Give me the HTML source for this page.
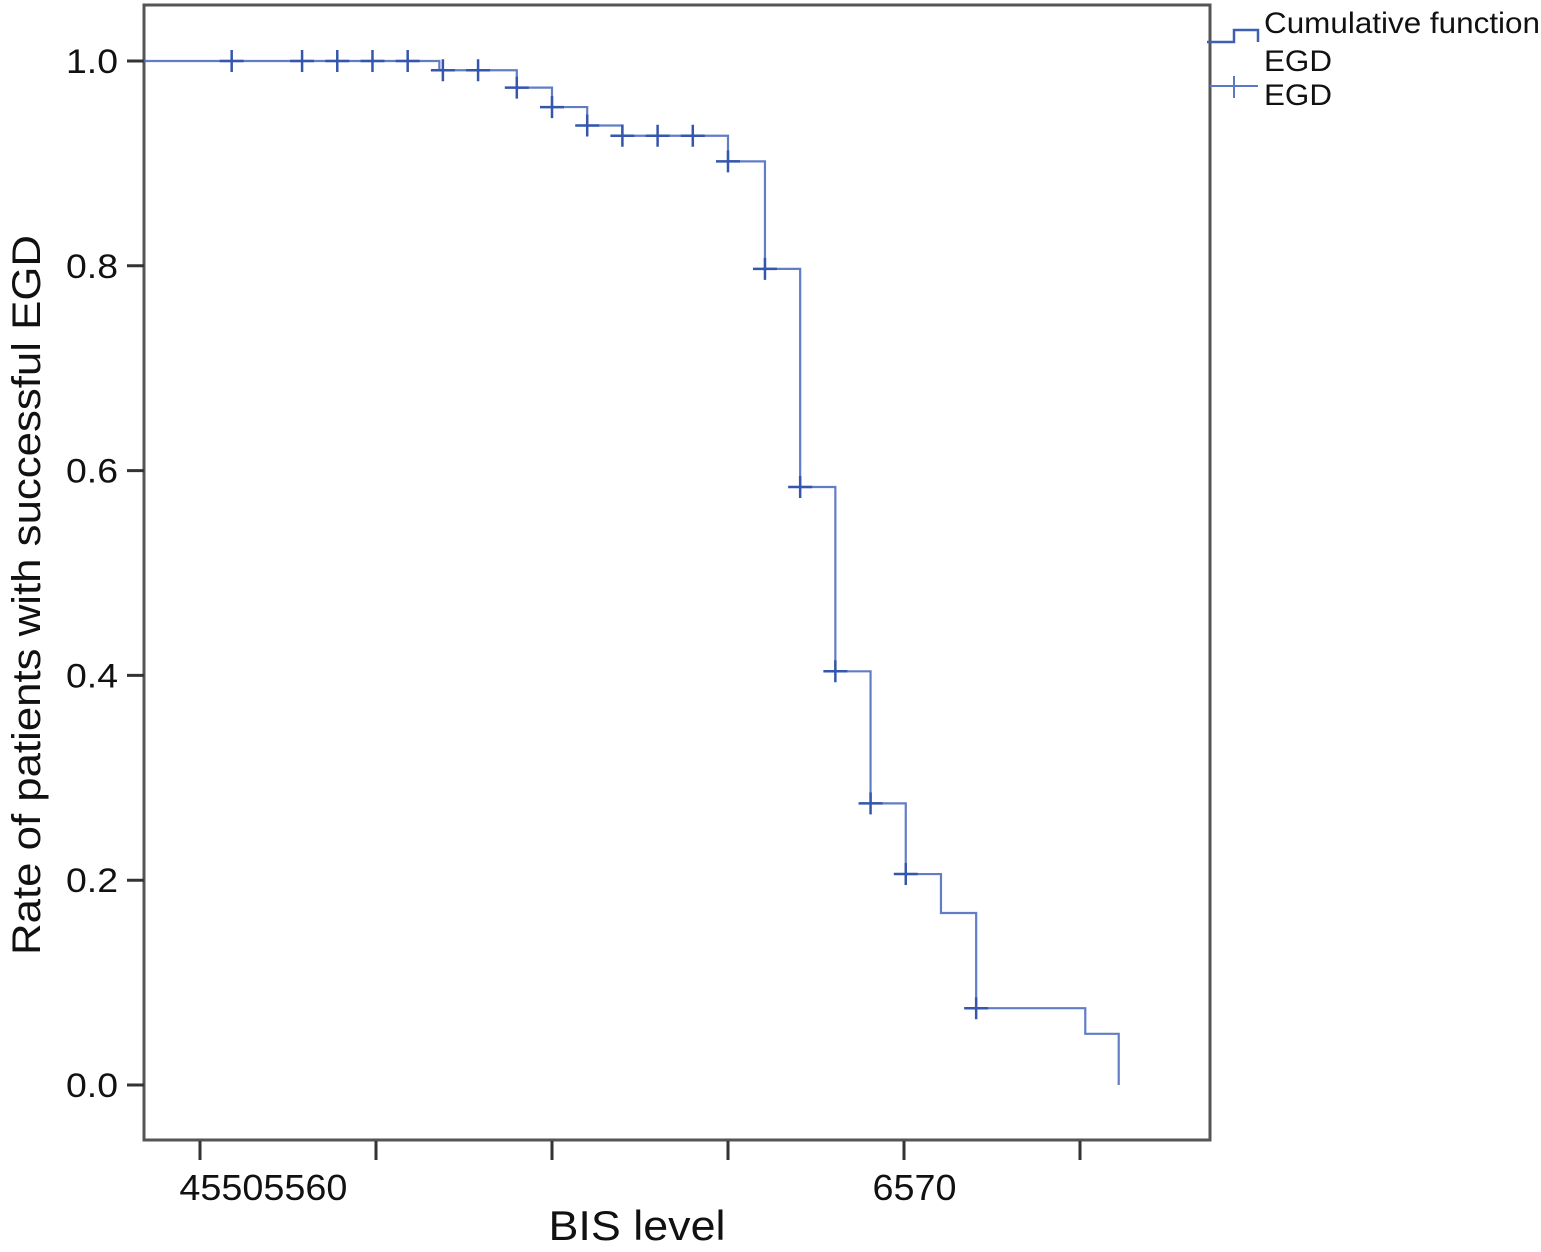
<!DOCTYPE html>
<html><head><meta charset="utf-8"><style>
html,body{margin:0;padding:0;background:#fff}
svg{display:block;font-family:"Liberation Sans",sans-serif}
</style></head><body>
<svg id="chart" width="1541" height="1252" viewBox="0 0 1541 1252">
<rect x="144" y="5" width="1066" height="1135" fill="#fff" stroke="#555" stroke-width="3"/>
<g id="yaxis"></g>
<g id="xaxis"></g>
<g id="series"></g>
<text x="0" y="0" transform="translate(40,595) rotate(-90)" text-anchor="middle" font-size="40" textLength="720" lengthAdjust="spacingAndGlyphs" fill="#111">Rate of patients with successful EGD</text>
<text x="637" y="1240" text-anchor="middle" font-size="42" textLength="177" lengthAdjust="spacingAndGlyphs" fill="#111">BIS level</text>
<g>
<path d="M1207 42 H1234 V30 H1258 V42" fill="none" stroke="#3f5fb3" stroke-width="2.5"/>
<text x="1264" y="33" font-size="30" textLength="276" lengthAdjust="spacingAndGlyphs" fill="#111">Cumulative function</text>
<text x="1264" y="71" font-size="30" textLength="68" lengthAdjust="spacingAndGlyphs" fill="#111">EGD</text>
<path d="M1210 86 H1258 M1234 76 V98" fill="none" stroke="#5a78c4" stroke-width="2"/>
<text x="1264" y="105" font-size="30" textLength="68" lengthAdjust="spacingAndGlyphs" fill="#111">EGD</text>
</g>
</svg>
<script>
const stepTimes=[51.8,54,55,56,57,60,61.05,62.05,63.05,64.05,65.05,66.05,67.05,70.15,71.1];
const stepSurv=[0.991,0.974,0.955,0.937,0.927,0.902,0.797,0.584,0.404,0.275,0.206,0.168,0.075,0.05,0.0];
const censorTimes=[45.9,47.9,48.9,49.9,50.9,51.9,52.9,54,55,56,57,58,59,60,61.05,62.05,63.05,64.05,65.05,67.05];
const yTicks=[0,0.2,0.4,0.6,0.8,1.0];
const yTickLabels=["0.0","0.2","0.4","0.6","0.8","1.0"];
const xTicks=[45,50,55,60,65,70];
const xTickLabels=[{x:46.8,t:"45505560"},{x:65.3,t:"6570"}];
const startTime=43.4;
const NS="http://www.w3.org/2000/svg";
const xs=v=>200+(v-45)*35.2;
const ys=v=>1085-v*1024;
function mk(t,a){const e=document.createElementNS(NS,t);for(const k in a)e.setAttribute(k,a[k]);return e;}
const ya=document.getElementById('yaxis');
yTicks.forEach((v,i)=>{
 const l=mk('line',{x1:127,x2:144,y1:ys(v),y2:ys(v),stroke:'#333','stroke-width':3});
 
 
 ya.appendChild(l);
 const t=mk('text',{x:118,y:ys(v)+12,'text-anchor':'end','font-size':34,fill:'#111',textLength:52,lengthAdjust:'spacingAndGlyphs'});
 t.textContent=yTickLabels[i];
 
 
 ya.appendChild(t);
});
const xa=document.getElementById('xaxis');
xTicks.forEach(v=>{
 const l=mk('line',{x1:xs(v),x2:xs(v),y1:1141,y2:1160,stroke:'#333','stroke-width':3});
 
 
 xa.appendChild(l);
});
xTickLabels.forEach(o=>{
 const t=mk('text',{x:xs(o.x),y:1200,'text-anchor':'middle','font-size':36,fill:'#111',textLength:o.t.length*21,lengthAdjust:'spacingAndGlyphs'});
 t.textContent=o.t;
 
 
 xa.appendChild(t);
});
const sg=document.getElementById('series');
let d='M'+xs(startTime)+' '+ys(1);
stepTimes.forEach((t,i)=>{d+=' H'+xs(t)+' V'+ys(stepSurv[i]);});
const p=mk('path',{d:d,fill:'none',stroke:'#4566bb','stroke-width':2.2,'stroke-opacity':0.85});


sg.appendChild(p);
function surv(t){let s=1;stepTimes.forEach((st,i)=>{if(t>=st)s=stepSurv[i];});return s;}
censorTimes.forEach(t=>{
 const cx=xs(t),cy=ys(surv(t));
 const c=mk('path',{d:`M${cx-12} ${cy} H${cx+12} M${cx} ${cy-11} V${cy+11}`,stroke:'#3556ad','stroke-width':2.5,fill:'none'});
 
 
 sg.appendChild(c);
});
</script>
</body></html>
